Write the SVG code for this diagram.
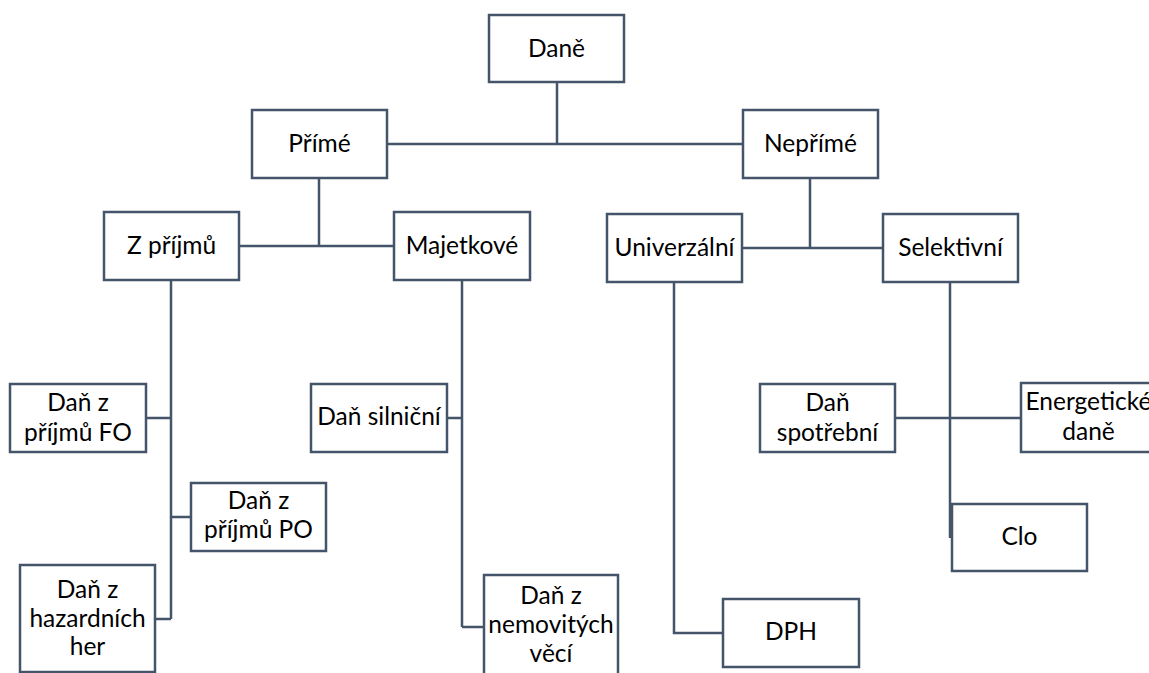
<svg xmlns="http://www.w3.org/2000/svg" width="1149" height="673" viewBox="0 0 1149 673">
<style>
.b{fill:#fff;stroke:#44546A;stroke-width:2.5}
.c{fill:none;stroke:#44546A;stroke-width:2.5}
text{font-family:Lato,"Liberation Sans",sans-serif;font-size:24.5px;fill:#000;text-anchor:middle}
</style>
<rect width="1149" height="673" fill="#fff"/>
<g id="connectors">
<path class="c" d="M557 82V144M387 144H743"/>
<path class="c" d="M319 178V246M239 246H394"/>
<path class="c" d="M810 178V248M742 248H883"/>
<path class="c" d="M171 280V619M146 418H171M171 517H191M155 619H171"/>
<path class="c" d="M462 280V627M447 418H462M462 627H484"/>
<path class="c" d="M674 282V633H723"/>
<path class="c" d="M950 282V538M895 418H1021"/>
</g>
<g id="dane"><rect class="b" x="489" y="15" width="135" height="67"/><text x="556.5" y="57">Daně</text></g>
<g id="prime"><rect class="b" x="252" y="110" width="135" height="68"/><text x="319.5" y="152">Přímé</text></g>
<g id="neprime"><rect class="b" x="743" y="110" width="135" height="68"/><text x="810.5" y="152">Nepřímé</text></g>
<g id="zprijmu"><rect class="b" x="104" y="212" width="135" height="68"/><text x="171.5" y="254">Z příjmů</text></g>
<g id="majetkove"><rect class="b" x="394" y="212" width="136" height="68"/><text x="462" y="254">Majetkové</text></g>
<g id="univerzalni"><rect class="b" x="607" y="214" width="135" height="68"/><text x="674.5" y="256">Univerzální</text></g>
<g id="selektivni"><rect class="b" x="883" y="214" width="135" height="68"/><text x="950.5" y="256">Selektivní</text></g>
<g id="fo"><rect class="b" x="10" y="384" width="136" height="68"/><text x="78" y="411">Daň z</text><text x="78" y="441">příjmů FO</text></g>
<g id="po"><rect class="b" x="191" y="483" width="135" height="68"/><text x="258.5" y="509">Daň z</text><text x="258.5" y="538">příjmů PO</text></g>
<g id="hazard"><rect class="b" x="20" y="565" width="135" height="107"/><text x="87.5" y="598">Daň z</text><text x="87.5" y="627">hazardních</text><text x="87.5" y="655">her</text></g>
<g id="silnicni"><rect class="b" x="311" y="384" width="136" height="68"/><text x="379" y="425">Daň silniční</text></g>
<g id="nemovitosti"><rect class="b" x="484" y="575" width="134" height="115"/><text x="551" y="604">Daň z</text><text x="551" y="633">nemovitých</text><text x="551" y="662">věcí</text></g>
<g id="dph"><rect class="b" x="723" y="599" width="136" height="68"/><text x="791" y="640">DPH</text></g>
<g id="spotrebni"><rect class="b" x="760" y="384" width="135" height="68"/><text x="827.5" y="411">Daň</text><text x="827.5" y="441">spotřební</text></g>
<g id="energeticke"><rect class="b" x="1021" y="383" width="135" height="69"/><text x="1088.5" y="410">Energetické</text><text x="1088.5" y="440">daně</text></g>
<g id="clo"><rect class="b" x="952" y="504" width="135" height="67"/><text x="1019.5" y="545">Clo</text></g>
</svg>
